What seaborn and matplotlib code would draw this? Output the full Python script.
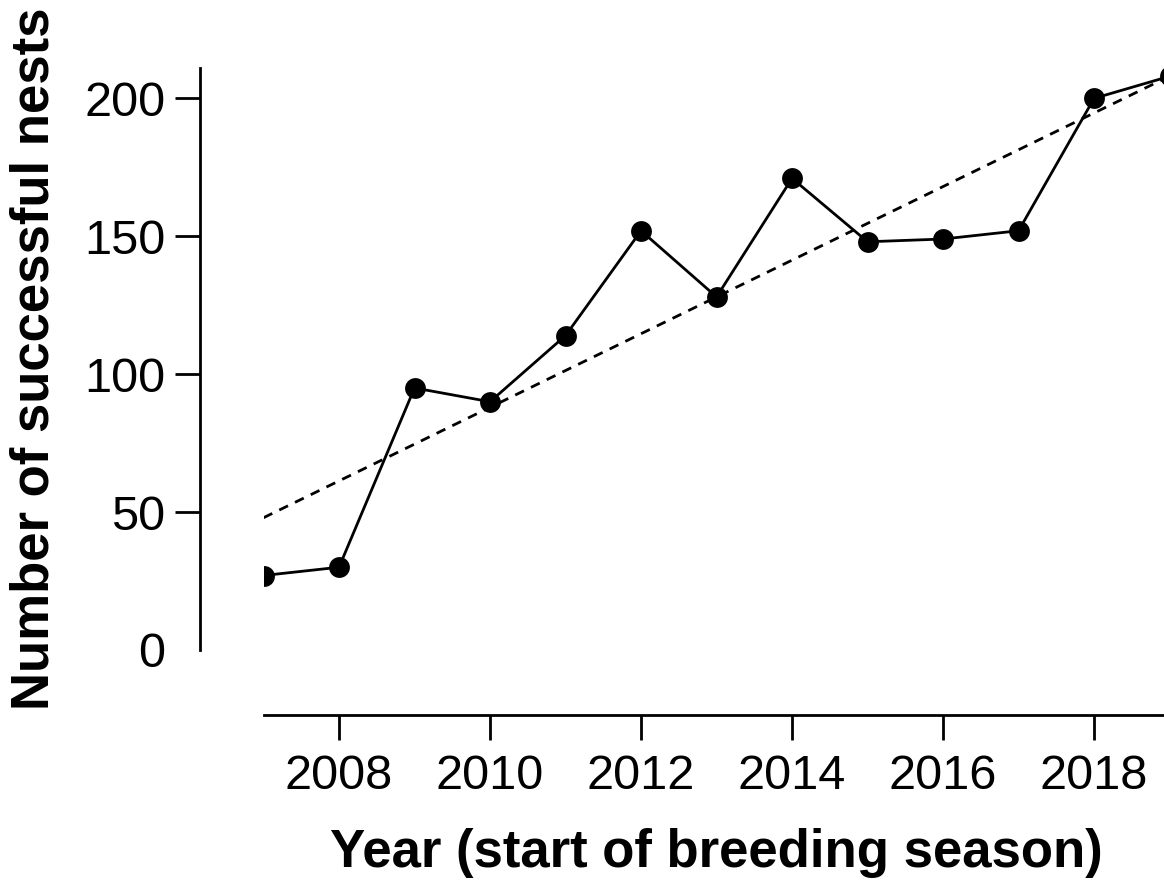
import pandas as pd
import matplotlib
matplotlib.use("Agg")
import matplotlib.pyplot as plt
import seaborn as sns

years = [2007, 2008, 2009, 2010, 2011, 2012, 2013, 2014, 2015, 2016, 2017, 2018, 2019]
nests = [27, 30, 95, 90, 114, 152, 128, 171, 148, 149, 152, 200, 208]
x_ticks = [2008, 2010, 2012, 2014, 2016, 2018]
y_ticks = [0, 50, 100, 150, 200]

df = pd.DataFrame({"year": years, "nests": nests})

sns.set_style("ticks")
plt.rcParams["font.family"] = ["Liberation Sans", "DejaVu Sans"]

fig = plt.figure(figsize=(11.64, 8.8), dpi=100)
ax = fig.add_axes([0.2264, 0.2614, 0.7784, 0.6613])

# linear trend (dashed)
sns.regplot(data=df, x="year", y="nests", ci=None, scatter=False, truncate=True,
            line_kws={"color": "black", "lw": 2.0, "ls": (0, (3.5, 2.8))}, ax=ax)
# observed counts
sns.lineplot(data=df, x="year", y="nests", color="black", lw=2.0,
             marker="o", markersize=15, markeredgewidth=0, ax=ax)

ax.set_xlim(2007, 2019)
ax.set_ylim(0, 211)
ax.set_xticks(x_ticks)
ax.set_yticks(y_ticks)

# offsets in points (dpi 100)
sns.despine(ax=ax, offset={"left": 45.5, "bottom": 47})
for s in ["left", "bottom"]:
    ax.spines[s].set_linewidth(2.0)
    ax.spines[s].set_color("black")
ax.tick_params(axis="both", labelsize=35, length=18, width=2.0, colors="black")
ax.tick_params(axis="x", pad=10)
ax.tick_params(axis="y", pad=7)
ax.yaxis.get_major_ticks()[0].tick1line.set_visible(False)

ax.set_xlabel("Year (start of breeding season)", fontsize=38, fontweight="bold",
              color="black", labelpad=21)
ax.set_ylabel("Number of successful nests", fontsize=38, fontweight="bold",
              color="black", labelpad=18)

fig.savefig("out.png", dpi=100)
